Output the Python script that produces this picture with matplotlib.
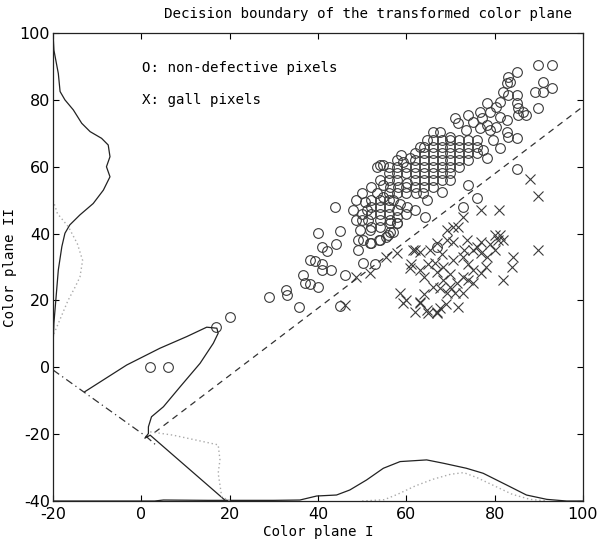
import matplotlib
matplotlib.use("Agg")
import matplotlib.pyplot as plt
import numpy as np

# ---------------- data ----------------
circles = [
    (2, 0), (6, 0), (17, 12), (20, 15),
    (28.8, 20.9), (32.8, 23.1), (32.9, 21.6), (35.8, 18.1), (36.6, 27.6), (37.1, 25.1),
    (38.2, 24.9), (40, 24.1), (38.2, 32.1), (39.3, 31.8), (40.8, 30.9), (41, 29.1),
    (42.9, 29.1), (39.9, 40.1), (45, 40.9), (41, 35.9), (42, 34.9), (44, 36.9),
    (43.8, 48), (45, 18.4), (46.1, 27.6), (49.1, 35.1), (50.3, 31.1), (52.9, 30.9),
    (49.1, 38.1), (52.1, 37.1), (54, 38.1), (55.9, 39.6), (57, 40.6), (57.8, 43.1),
    (56.3, 44.1), (66.9, 36.1), (72.9, 48), (75.9, 50.6), (64.2, 45), (85, 59.2),
    (74, 54.5), (68, 52.5), (63.8, 52), (64.6, 50), (62, 47),
    (89.9, 90.4), (92.9, 90.4), (91, 85.4), (89.1, 82.5), (91, 82.5), (92.9, 83.5),
    (89.9, 77.5), (85, 88.4), (83.1, 86.9), (83.5, 85.4), (82.7, 85), (82, 82.5),
    (83.1, 81.5), (85, 81.5), (81.2, 79.5), (85, 79), (85.4, 77.5), (86.5, 76.5),
    (87.2, 75.5), (85.4, 75.5), (80.4, 78), (78.9, 76.5), (81.2, 75), (82.7, 74),
    (78.2, 79), (76.7, 76.5), (77.1, 74.5), (74, 75.5), (71, 74.5), (71.8, 73),
    (75.2, 73.5), (78.2, 72.5), (80.4, 72), (82.7, 70.5), (83.1, 69), (85, 68.5),
    (66.1, 70.5), (67.6, 70.5), (64.6, 68), (63.1, 66), (66.1, 68), (69.9, 69),
    (73.6, 71), (76.7, 71.5), (78.9, 71), (79.7, 68), (81.2, 65.5), (77.4, 65),
    (78.2, 62.5), (54, 60.5), (58.9, 63.5), (60.8, 62.5),
    (53.3, 60), (54.8, 60.5), (57.8, 62), (59.3, 61.5), (54, 56), (54.8, 54.5),
    (56.3, 54), (58.2, 54), (60.1, 55), (62, 56), (62.3, 52), (53.3, 52), (54.8, 51),
    (57, 50), (58.6, 49), (60.1, 48), (57.8, 47), (48.7, 50), (50.6, 49.5), (48, 47),
    (51, 47), (48.7, 44.1), (51.4, 44.1), (49.5, 41.1), (51.8, 41.1), (54, 44.1),
    (56.3, 43.1), (57.8, 43.1), (53.9, 38.1), (55.5, 39.1), (56.3, 40.6), (50.3, 38.1),
    (51.8, 37.1),
    (56, 58), (58, 58), (60, 58), (62, 58), (64, 58), (66, 58), (68, 58), (70, 58),
    (60, 60), (62, 60), (64, 60), (66, 60), (68, 60), (70, 60), (72, 60),
    (62, 62), (64, 62), (66, 62), (68, 62), (70, 62), (72, 62), (74, 62),
    (62, 64), (64, 64), (66, 64), (68, 64), (70, 64), (72, 64), (74, 64), (76, 64),
    (64, 66), (66, 66), (68, 66), (70, 66), (72, 66), (74, 66), (76, 66),
    (68, 68), (70, 68), (72, 68), (74, 68), (76, 68),
    (56, 56), (58, 56), (64, 56), (66, 56), (68, 56), (70, 56),
    (60, 54), (62, 54), (64, 54), (66, 54),
    (56, 52), (58, 52), (60, 52),
    (52, 50), (54, 50), (56, 50),
    (50, 46), (52, 46), (54, 46), (56, 46),
    (52, 48), (54, 48), (56, 48),
    (50, 44), (52, 42), (54, 42), (58, 45), (60, 46), (52, 54), (50, 52), (56, 60),
    (58, 60),
]

crosses = [
    (88, 56.2), (89.9, 51.3), (77, 47), (81, 47), (72.9, 45), (70.6, 42), (71.8, 42),
    (89.9, 35.1), (81.2, 39.6), (80.8, 38.1), (81.9, 38.1), (84.2, 33.1), (84, 29.9),
    (81.9, 26.1), (77, 28.1), (62, 35.1), (63, 34.6), (65.4, 35.1), (60.8, 29.6),
    (63.1, 29.1), (58.6, 22.1), (59.3, 19.1), (63.1, 19.1), (64.6, 17.1), (66.9, 16.6),
    (71.8, 18.1), (48.7, 27.1), (51.8, 28.1), (55.5, 33.1), (57.8, 34.1), (61.6, 35.1),
    (46.1, 18.6), (69.1, 41.1), (66.9, 37.1), (69.1, 38.1), (70.6, 37.6), (73.7, 38.1),
    (77, 37.6), (80.1, 39.6), (66.5, 31.1), (68.4, 30.1), (70.6, 32.1), (72.9, 33.1),
    (75.2, 35.1), (77, 34.1), (78.2, 33.1), (80.1, 35.1), (75.2, 29.1), (72.9, 27.1),
    (71.4, 25.1), (68.4, 26.1), (66.9, 28.6), (66.1, 24.1), (67.6, 23.6), (69.1, 22.1),
    (71, 22.1), (72.9, 22.1), (75.2, 25.1), (63.1, 19.6), (65, 16.1), (66.9, 16.1),
    (67.6, 17.6), (60, 20), (61, 31), (64, 27), (65, 31), (68, 34), (70, 28), (74, 31),
    (76, 36), (79, 37), (78, 30), (73, 35), (64, 22), (62, 16.5), (69, 19), (70, 24),
    (74, 26),
]

# marginal density of colour plane II (left, drawn from x = -20)
left_solid_y = [100, 94.9, 87.9, 82.5, 80, 77, 73, 70.5, 68.5, 66.5, 63, 60, 57, 53, 49,
                45.6, 42.6, 40.1, 36.1, 29.1, 21.1, 13.2, 6]
left_solid_x = [-20, -19.8, -18.8, -18.4, -17.3, -15.4, -13.5, -11.6, -9, -7.5, -7.1,
                -7.9, -7.1, -8.6, -10.9, -13.9, -16.2, -17.3, -18.0, -18.8, -19.3, -19.8, -20]
left_dot_y = [10, 15, 20, 24, 27, 32, 37, 42, 46, 50]
left_dot_x = [-19.8, -18.2, -16.6, -15.0, -13.9, -13.3, -14.5, -16.5, -19, -20]

# marginal density of colour plane I (bottom, drawn from y = -40)
bottom_solid_x = [-20, 3, 5, 15, 30, 35.9, 39.7, 44.2, 47.2, 51, 54.8, 58.6, 64.6, 68.4,
                  73.6, 77.4, 82.7, 87.2, 91.8, 96.3, 100]
bottom_solid_y = [-40, -40, -39.7, -39.8, -39.8, -39.7, -38.5, -38.2, -36.7, -33.7, -30.2,
                  -28.2, -27.7, -28.7, -30.2, -31.7, -35.2, -38.2, -39.5, -40, -40]
bottom_dot_x = [50, 55, 58, 62, 66, 70, 73, 76, 80, 84, 88, 92]
bottom_dot_y = [-40, -39.6, -38, -35.5, -33.5, -32, -31.5, -33, -35.5, -38, -39.5, -40]

# projection onto the rotated (transformed) axes
rot_axis_x = [-20, 1.2, 3.5]
rot_axis_y = [-0.8, -20.8, -23.5]
rot_solid_x = [-12.8, -3.3, 4.2, 10.3, 14.8, 17.1, 17.4, 16.3, 13.3, 8.8, 5, 2.3, 1.6,
               1.6, 0.8, 2, 18.9, 19.8]
rot_solid_y = [-7.3, 0.7, 5.7, 9.2, 12, 11.7, 10.2, 7.2, 1.2, -5.8, -11.8, -14.8, -17.8,
               -19.8, -21.2, -20.3, -39.7, -40]
rot_dot_x = [2, 7.2, 12.5, 17.4, 17.8, 17.4, 18.2, 20]
rot_dot_y = [-19.3, -20.3, -21.8, -23.2, -27.7, -31.7, -38.7, -40]

boundary_x = [3, 100]
boundary_y = [-19.5, 78]

xticks = [-20, 0, 20, 40, 60, 80, 100]
yticks = [-40, -20, 0, 20, 40, 60, 80, 100]

# ---------------- plot ----------------
mono = "DejaVu Sans Mono"
tickfont = ["Liberation Sans Narrow", "DejaVu Sans"]

fig = plt.figure(figsize=(5.97, 5.44), dpi=100)
ax = fig.add_axes([0.0888, 0.079, 0.8877, 0.8603])

cx, cy = zip(*circles)
xx, xy = zip(*crosses)
ax.plot(cx, cy, linestyle="none", marker="o", ms=7, mfc="none", mec="#3a3a3a", mew=0.8)
ax.plot(xx, xy, linestyle="none", marker="x", ms=7, color="#3a3a3a", mew=0.8)

ax.plot(boundary_x, boundary_y, color="#333333", lw=0.9, ls=(0, (5, 4)))
ax.plot(rot_axis_x, rot_axis_y, color="#333333", lw=0.9, ls=(0, (6, 3, 1, 3)))

ax.plot(left_solid_x, left_solid_y, color="#222222", lw=0.9)
ax.plot(left_dot_x, left_dot_y, color="#aaaaaa", lw=1.0, ls=(0, (1, 2)))
ax.plot(bottom_solid_x, bottom_solid_y, color="#222222", lw=0.9)
ax.plot(bottom_dot_x, bottom_dot_y, color="#aaaaaa", lw=1.0, ls=(0, (1, 2)))
ax.plot(rot_solid_x, rot_solid_y, color="#222222", lw=0.9)
ax.plot(rot_dot_x, rot_dot_y, color="#aaaaaa", lw=1.0, ls=(0, (1, 2)))

ax.set_xlim(-20, 100)
ax.set_ylim(-40, 100)
ax.set_xticks(xticks)
ax.set_yticks(yticks)
ax.set_xticklabels([str(t) for t in xticks], family=tickfont, fontsize=11.5)
ax.set_yticklabels([str(t) for t in yticks], family=tickfont, fontsize=11.5)
ax.tick_params(direction="in", top=True, right=True, length=4, width=0.8)
ax.tick_params(axis="x", pad=4)
ax.tick_params(axis="y", pad=2)
for s in ax.spines.values():
    s.set_linewidth(0.9)
    s.set_color("#222222")

ax.text(0.15, 89.5, "O: non-defective pixels", family=mono, fontsize=10.2, va="center")
ax.text(0.15, 80, "X: gall pixels", family=mono, fontsize=10.2, va="center")

ax.set_xlabel("Color plane I", family=mono, fontsize=10.2, labelpad=2.5)
ax.set_ylabel("Color plane II", family=mono, fontsize=10.2, labelpad=2)
fig.text(368 / 597, 1 - 14 / 544, "Decision boundary of the transformed color plane",
         family=mono, fontsize=10.2, ha="center", va="center")

fig.savefig("out.png", dpi=100)
